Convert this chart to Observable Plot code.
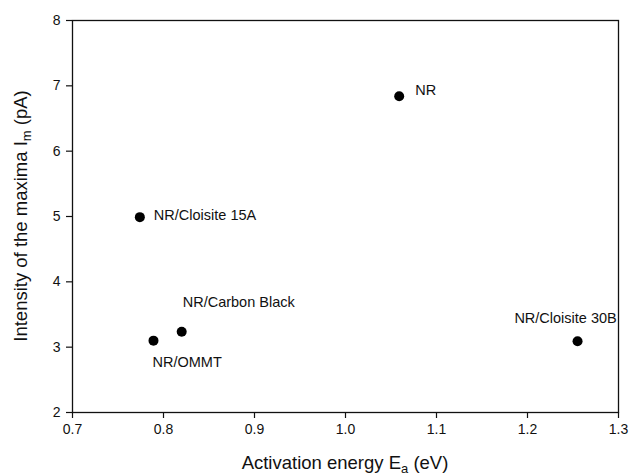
<!DOCTYPE html>
<html>
<head>
<meta charset="utf-8">
<script src="https://cdn.jsdelivr.net/npm/d3@7"></script>
<script src="https://cdn.jsdelivr.net/npm/@observablehq/plot@0.6"></script>
<style>
  html, body { margin: 0; padding: 0; background: #fff; }
  #chart { width: 629px; height: 476px; }
</style>
</head>
<body>
<div id="chart"></div>
<script>
// Samples and their activation energy / peak intensity
const samples = ["NR", "NR/Cloisite 15A", "NR/Carbon Black", "NR/OMMT", "NR/Cloisite 30B"];
const activationEnergy = [1.059, 0.774, 0.820, 0.789, 1.255];
const peakIntensity = [6.84, 4.99, 3.235, 3.10, 3.09];

const xTicks = [0.7, 0.8, 0.9, 1.0, 1.1, 1.2, 1.3];
const yTicks = [2, 3, 4, 5, 6, 7, 8];

const rows = samples.map((name, i) => ({name, ea: activationEnergy[i], im: peakIntensity[i]}));

// label placement around each marker
const labelPlacement = {
  "NR": {dx: 16, dy: -6, anchor: "start"},
  "NR/Cloisite 15A": {dx: 14, dy: -2, anchor: "start"},
  "NR/Carbon Black": {dx: 1, dy: -29, anchor: "start"},
  "NR/OMMT": {dx: -1, dy: 22, anchor: "start"},
  "NR/Cloisite 30B": {dx: -12, dy: -23, anchor: "middle"}
};

const font = "'Liberation Sans', Arial, Helvetica, sans-serif";

const labelMarks = samples.map(name => {
  const p = labelPlacement[name];
  return Plot.text(rows.filter(d => d.name === name), {
    x: "ea", y: "im", text: "name",
    dx: p.dx, dy: p.dy, textAnchor: p.anchor,
    fontSize: 14.5, fill: "#111"
  });
});

const svg = Plot.plot({
  width: 629,
  height: 476,
  marginLeft: 72,
  marginRight: 11,
  marginTop: 20,
  marginBottom: 64,
  style: {fontFamily: font, background: "#fff", color: "#111"},
  x: {domain: [0.7, 1.3]},
  y: {domain: [2, 8]},
  marks: [
    Plot.axisX({ticks: xTicks, tickSize: 6, tickPadding: 6, fontSize: 14,
      tickFormat: d => d.toFixed(1), label: null, strokeWidth: 1.2}),
    Plot.axisY({ticks: yTicks, tickSize: 6, tickPadding: 6, fontSize: 14,
      tickFormat: d => String(d), label: null, strokeWidth: 1.2}),
    Plot.frame({stroke: "#111", strokeWidth: 1.3}),
    Plot.dot(rows, {x: "ea", y: "im", r: 5, fill: "#000", stroke: "none"}),
    ...labelMarks
  ]
});

// axis titles with subscripts
const sel = d3.select(svg);

const xTitle = sel.append("text")
  .attr("x", 345).attr("y", 469)
  .attr("text-anchor", "middle")
  .attr("font-family", font).attr("font-size", 18.5).attr("fill", "#111");
xTitle.append("tspan").text("Activation energy E");
xTitle.append("tspan").attr("font-size", 13).attr("dy", 4).text("a");
xTitle.append("tspan").attr("dy", -4).text(" (eV)");

const yTitle = sel.append("text")
  .attr("transform", "translate(27,216) rotate(-90)")
  .attr("text-anchor", "middle")
  .attr("font-family", font).attr("font-size", 18.5).attr("fill", "#111");
yTitle.append("tspan").text("Intensity of the maxima I");
yTitle.append("tspan").attr("font-size", 13).attr("dy", 4).text("m");
yTitle.append("tspan").attr("dy", -4).text(" (pA)");

document.getElementById("chart").appendChild(svg);
</script>
</body>
</html>
